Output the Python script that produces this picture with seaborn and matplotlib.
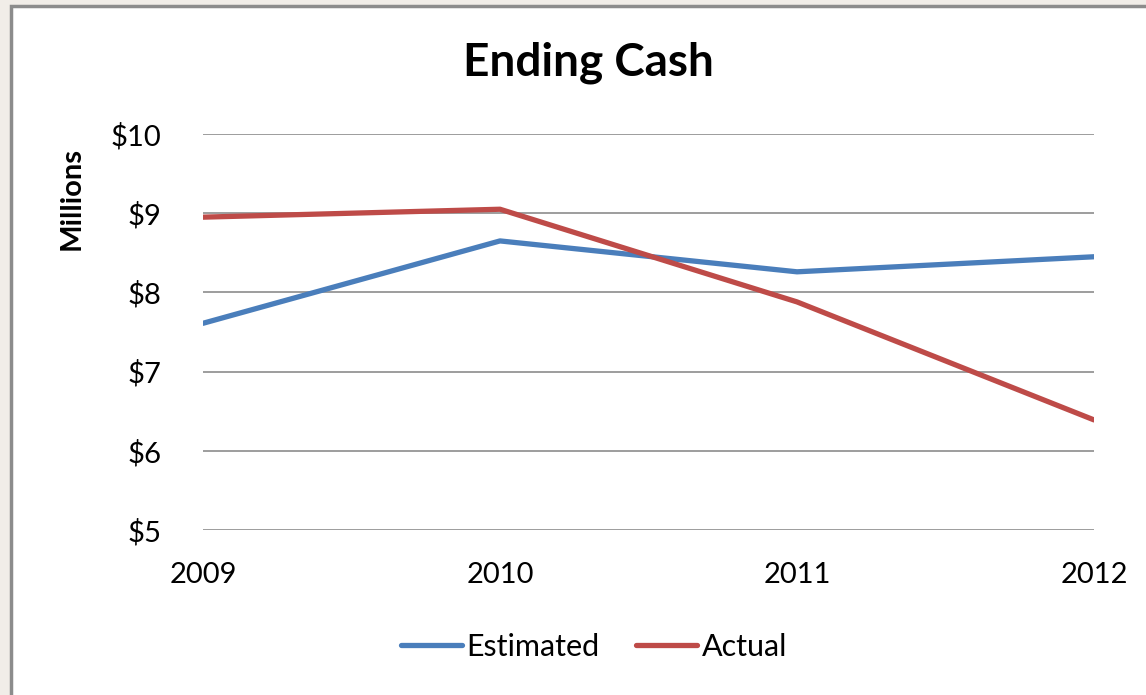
import pandas as pd
import matplotlib.pyplot as plt
import seaborn as sns
from matplotlib.patches import Rectangle

years = [2009, 2010, 2011, 2012]
estimated = [7.61, 8.65, 8.26, 8.45]
actual = [8.95, 9.05, 7.88, 6.39]
series_names = ["Estimated", "Actual"]
colors = ["#4a7ebb", "#be4b48"]

df = pd.DataFrame({
    "Year": years * 2,
    "Cash": estimated + actual,
    "Series": [series_names[0]] * 4 + [series_names[1]] * 4,
})

sns.set_theme(style="white")
plt.rcParams["font.family"] = ["Lato", "DejaVu Sans"]
plt.rcParams["text.color"] = "black"

fig = plt.figure(figsize=(11.46, 6.95), dpi=100, facecolor="#f1ede8")
# white chart area with grey frame
fig.patches.append(Rectangle((11 / 1146, -0.05), 1.2, 1 - 6 / 695 + 0.05,
                             transform=fig.transFigure, facecolor="white",
                             edgecolor="#8c8c8c", linewidth=2.5, zorder=-5))
ax = fig.add_axes([203 / 1146, 1 - 530 / 695, (1094 - 203) / 1146, (530 - 134) / 695])
ax.set_facecolor("none")
ax.set_zorder(2)

sns.lineplot(data=df, x="Year", y="Cash", hue="Series", palette=colors,
             linewidth=3.8, ax=ax, legend=False, zorder=3)

ax.set_xlim(2009, 2012)
ax.set_ylim(5, 10)
ax.set_xticks(years)
ax.set_xticklabels([str(y) for y in years])
ax.set_yticks([5, 6, 7, 8, 9, 10])
ax.set_yticklabels(["$5", "$6", "$7", "$8", "$9", "$10"])
ax.tick_params(axis="x", labelsize=21, pad=23, length=0, colors="black")
ax.tick_params(axis="y", labelsize=21, pad=30, length=0, colors="black")
ax.grid(axis="y", color="#8c8c8c", linewidth=1.2)
ax.grid(axis="x", visible=False)
for s in ax.spines.values():
    s.set_visible(False)

ax.set_xlabel("")
ax.set_ylabel("")
fig.text(72 / 1146, 1 - 199 / 695, "Millions", rotation=90, fontsize=21,
         fontweight="bold", ha="center", va="center")
fig.text(588 / 1146, 1 - 63 / 695, "Ending Cash", fontsize=33,
         fontweight="bold", ha="center", va="center")

handles = [plt.Line2D([], [], color=c, linewidth=3.8, solid_capstyle="round") for c in colors]
fig.legend(handles, series_names, loc="center", bbox_to_anchor=(594 / 1146, 1 - 647 / 695),
           ncol=2, frameon=False, fontsize=22, handlelength=2.0, handletextpad=0.15,
           columnspacing=1.2)

fig.savefig("out.png", dpi=100, facecolor=fig.get_facecolor())
